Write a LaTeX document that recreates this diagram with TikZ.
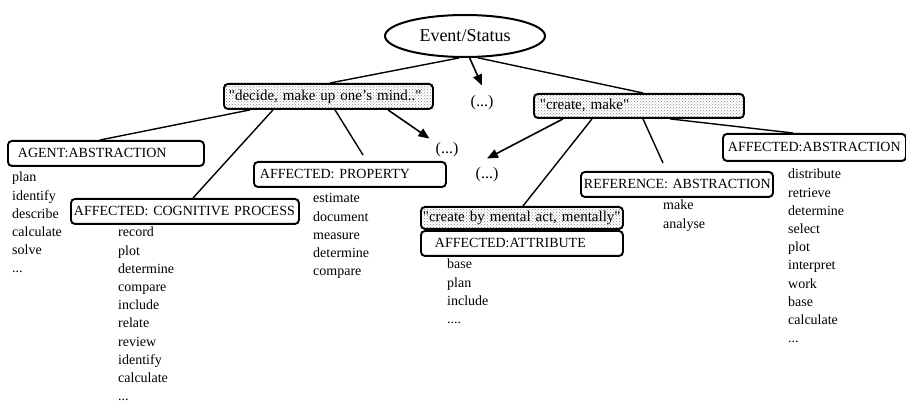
\documentclass[tikz,border=0pt]{standalone}
\usepackage{fontspec}
\setmainfont{Liberation Serif}
\usetikzlibrary{arrows.meta}
\usetikzlibrary{shapes.geometric}
\usetikzlibrary{patterns}

\begin{document}
\begin{tikzpicture}[x=1pt, y=-1pt,
    box/.style={draw, line width=1.9pt, rounded corners=4pt, anchor=north west,
        minimum height=25pt, inner xsep=6pt, inner ysep=0pt, align=left,
        font=\fontsize{14}{16}\selectfont},
    sense/.style={box, pattern=crosshatch dots, pattern color=black!45,
        font=\fontsize{15}{17}\selectfont},
    words/.style={anchor=north west, inner sep=0pt, align=left,
        font=\fontsize{14}{18.2}\selectfont},
    etc/.style={font=\fontsize{16}{18}\selectfont, inner sep=2pt},
    link/.style={line width=1.4pt},
    arr/.style={line width=1.6pt, -{Triangle[width=9pt,length=11pt]}}]
        \useasboundingbox (0,0) rectangle (906,406);

        % Top concept
        \node[draw, ellipse, line width=2pt, minimum width=160pt, minimum height=42pt,
            inner sep=0pt, font=\fontsize{18}{20}\selectfont] (ev) at (465,36) {Event/Status};

        % Senses of the verb
        \node[sense, text width=199pt, inner xsep=5pt] (dec) at (223,83) {\mbox{\textquotedbl decide, make up one's mind..\textquotedbl}};
        \node[sense, text width=198pt, minimum height=24pt] (cre) at (533,93) {\textquotedbl create, make\textquotedbl};
        \node[etc] (dots1) at (482,103) {(...)};

        % Roles of "decide"
        \node[box, text width=184pt] (agent) at (7,140) {\hspace{4pt}AGENT:ABSTRACTION};
        \node[box, text width=222pt, inner xsep=3pt] (cog) at (70,198) {\mbox{AFFECTED: COGNITIVE PROCESS}};
        \node[box, text width=180pt] (prop) at (253,161) {AFFECTED: PROPERTY};
        \node[etc] (dots2) at (447,150) {(...)};

        % Roles of "create"
        \node[etc] (dots3) at (487,175) {(...)};
        \node[sense, text width=198pt, minimum height=22pt, inner xsep=2pt] (mental) at (420,206) {\mbox{\textquotedbl create by mental act, mentally\textquotedbl}};
        \node[box, text width=190pt] (attr) at (420,230) {\hspace{8pt}AFFECTED:ATTRIBUTE};
        \node[box, text width=186pt, inner xsep=3pt] (ref) at (580,171) {\mbox{REFERENCE: ABSTRACTION}};
        \node[box, text width=173pt, inner xsep=5pt, minimum height=27pt] (absr) at (722,133) {\mbox{AFFECTED:ABSTRACTION}};

        % Verb lists (first baseline 12.7pt below the given point)
        \node[words] (agentlist) at (12,169) {\strut plan\\identify\\describe\\calculate\\solve\\...};
        \node[words] (coglist) at (118,224) {\strut record\\plot\\determine\\compare\\include\\relate\\review\\identify\\calculate\\...};
        \node[words] (proplist) at (313,190) {\strut estimate\\document\\measure\\determine\\compare};
        \node[words] (attrlist) at (447,256) {\strut base\\plan\\include\\....};
        \node[words] (reflist) at (663,197) {\strut make\\analyse};
        \node[words] (absrlist) at (788,166) {\strut distribute\\retrieve\\determine\\select\\plot\\interpret\\work\\base\\calculate\\...};

        % Links from the top
        \draw[link] (ev.255) -- ([xshift=107pt]dec.north west);
        \draw[arr] (ev.282) -- ([yshift=8pt]dots1.north);
        \draw[link] (ev.300) -- ([xshift=110pt]cre.north west);

        % Links from "decide"
        \draw[link] ([xshift=27pt]dec.south west) -- ([xshift=93pt]agent.north west);
        \draw[link] ([xshift=50pt]dec.south west) -- ([xshift=123pt]cog.north west);
        \draw[link] ([xshift=112pt]dec.south west) -- ([xshift=110pt,yshift=6pt]prop.north west);
        \draw[arr] ([xshift=165pt]dec.south west) -- ([xshift=-4pt,yshift=2pt]dots2.north west);

        % Links from "create"
        \draw[arr] ([xshift=30pt]cre.south west) -- ([yshift=7pt]dots3.north);
        \draw[link] ([xshift=59pt]cre.south west) -- ([xshift=103pt]mental.north west);
        \draw[link] ([xshift=110pt]cre.south west) -- ([xshift=83pt,yshift=8pt]ref.north west);
        \draw[link] ([xshift=137pt]cre.south west) -- ([xshift=71pt]absr.north west);
\end{tikzpicture}
\end{document}
